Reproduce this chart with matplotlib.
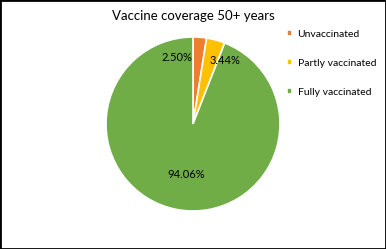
import matplotlib
matplotlib.use("Agg")
import matplotlib.pyplot as plt
from matplotlib.patches import Rectangle

plt.rcParams['font.family'] = ['Lato', 'DejaVu Sans']

labels = ['Unvaccinated', 'Partly vaccinated', 'Fully vaccinated']
values = [2.50, 3.44, 94.06]
colors = ['#ED7D31', '#FFC000', '#70AD47']
# label positions (pie radius units)
label_pos = [(-0.19, 0.77), (0.37, 0.73), (-0.08, -0.575)]

fig = plt.figure(figsize=(3.86, 2.49), dpi=100)
fig.patch.set_facecolor('white')

ax = fig.add_axes([106/386, 38/249, 174/386, 174/249])
wedges, _ = ax.pie(values, colors=colors, startangle=90, counterclock=False,
                   radius=1, wedgeprops=dict(edgecolor='white', linewidth=1.2))
ax.set_xlim(-1, 1)
ax.set_ylim(-1, 1)
ax.set_aspect('equal')

for v, (x, y) in zip(values, label_pos):
    ax.text(x, y, f'{v:.2f}%', ha='center', va='center', fontsize=8, color='black')

fig.text(193/386, 1 - 16/249, 'Vaccine coverage 50+ years', ha='center', va='center',
         fontsize=9.5, color='black')

leg = fig.legend(wedges, labels, loc='upper left', bbox_to_anchor=(283/386, 1 - 26/249),
                 frameon=False, fontsize=7.5, handlelength=0.5, handleheight=0.5,
                 handletextpad=0.5, labelspacing=1.9, borderaxespad=0)

fig.add_artist(Rectangle((0, 0), 1, 1, transform=fig.transFigure, fill=False,
                         edgecolor='black', linewidth=2))

fig.savefig('out.png', dpi=100)
